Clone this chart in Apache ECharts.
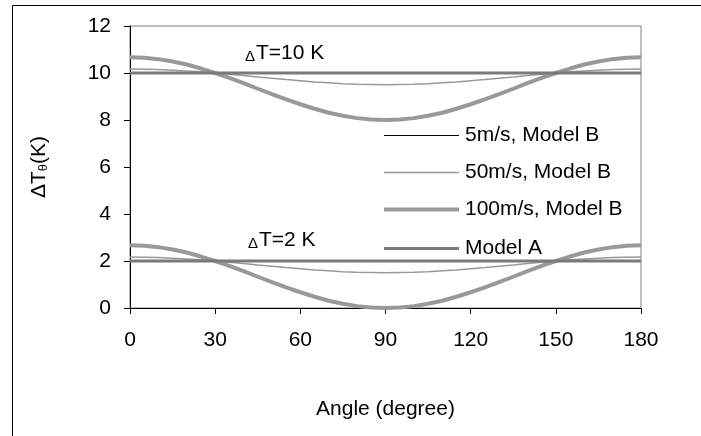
<!DOCTYPE html>
<html><head><meta charset="utf-8">
<script src="https://cdn.jsdelivr.net/npm/echarts@6/dist/echarts.min.js"></script>
<style>html,body{margin:0;padding:0;background:#fff}#c{width:701px;height:436px}</style>
</head><body><div id="c"></div>
<script>
var angles = [0,5,10,15,20,25,30,35,40,45,50,55,60,65,70,75,80,85,90,95,100,105,110,115,120,125,130,135,140,145,150,155,160,165,170,175,180];
var v100Upper = [10.67,10.65,10.59,10.49,10.36,10.19,10.00,9.79,9.57,9.33,9.10,8.88,8.67,8.48,8.31,8.18,8.08,8.02,8.00,8.02,8.08,8.18,8.31,8.48,8.67,8.88,9.10,9.33,9.57,9.79,10.00,10.19,10.36,10.49,10.59,10.65,10.67];
var v100Lower = [2.67,2.65,2.59,2.49,2.36,2.19,2.00,1.79,1.57,1.33,1.10,0.88,0.67,0.48,0.31,0.18,0.08,0.02,0.00,0.02,0.08,0.18,0.31,0.48,0.67,0.88,1.10,1.33,1.57,1.79,2.00,2.19,2.36,2.49,2.59,2.65,2.67];
var v50Upper = [10.17,10.16,10.15,10.12,10.09,10.05,10.00,9.95,9.89,9.83,9.78,9.72,9.67,9.62,9.58,9.54,9.52,9.51,9.50,9.51,9.52,9.54,9.58,9.62,9.67,9.72,9.78,9.83,9.89,9.95,10.00,10.05,10.09,10.12,10.15,10.16,10.17];
var v50Lower = [2.17,2.16,2.15,2.12,2.09,2.05,2.00,1.95,1.89,1.83,1.78,1.72,1.67,1.62,1.58,1.54,1.52,1.51,1.50,1.51,1.52,1.54,1.58,1.62,1.67,1.72,1.78,1.83,1.89,1.95,2.00,2.05,2.09,2.12,2.15,2.16,2.17];
var v5Upper = [10.00,10.00,10.00,10.00,10.00,10.00,10.00,10.00,10.00,10.00,10.00,10.00,10.00,10.00,10.00,10.00,10.00,10.00,10.00,10.00,10.00,10.00,10.00,10.00,10.00,10.00,10.00,10.00,10.00,10.00,10.00,10.00,10.00,10.00,10.00,10.00,10.00];
var v5Lower = [2.00,2.00,2.00,2.00,2.00,2.00,2.00,2.00,2.00,2.00,2.00,2.00,2.00,2.00,2.00,2.00,2.00,2.00,2.00,2.00,2.00,2.00,2.00,2.00,2.00,2.00,2.00,2.00,2.00,2.00,2.00,2.00,2.00,2.00,2.00,2.00,2.00];
var modelAAngles = [0, 180];
var modelAUpper = [10, 10];
var modelALower = [2, 2];
var seriesNames = ['5m/s, Model B', '50m/s, Model B', '100m/s, Model B', 'Model A'];
var xTicks = [0, 30, 60, 90, 120, 150, 180];
var yTicks = [0, 2, 4, 6, 8, 10, 12];
var annotations = ['ΔT=10 K', 'ΔT=2 K'];

function pairs(xs, ys){ return xs.map(function(x,i){ return [x, ys[i]]; }); }
var styles = {};
styles[seriesNames[0]] = {color:'#000000', width:1};
styles[seriesNames[1]] = {color:'#999999', width:1.5};
styles[seriesNames[2]] = {color:'#999999', width:4};
styles[seriesNames[3]] = {color:'#7a7a7a', width:3};
function mk(name, xs, ys, z){
  var s = styles[name];
  return {name:name, type:'line', data:pairs(xs, ys), symbol:'none', showSymbol:false,
    lineStyle:{color:s.color, width:s.width}, itemStyle:{color:s.color}, z:z, silent:true, animation:false};
}
var font = 'Liberation Sans, Arial, sans-serif';
var FS = 21;
var legendRows = [135.5, 172.5, 209.5, 248.5];
var legendGraphics = [];
seriesNames.forEach(function(n, i){
  var s = styles[n];
  legendGraphics.push({type:'line', shape:{x1:384, y1:legendRows[i], x2:459, y2:legendRows[i]},
    style:{stroke:s.color, lineWidth:s.width}, silent:true, z:20});
  legendGraphics.push({type:'text', x:465, y:legendRows[i],
    style:{text:n, fontFamily:font, fontSize:FS, fill:'#000', textVerticalAlign:'middle', verticalAlign:'middle'}, silent:true, z:20});
});
function annot(text, left, top){
  return {type:'text', left:left, top:top, z:10, silent:true,
    style:{text:'{d|' + text.charAt(0) + '}{t|' + text.slice(1) + '}',
      rich:{d:{fontFamily:font, fontSize:15, fill:'#000', padding:[6,1,0,0]}, t:{fontFamily:font, fontSize:FS, fill:'#000'}}}};
}
var chart = echarts.init(document.getElementById('c'), null, {renderer:'canvas'});
chart.setOption({
  animation:false,
  grid:{left:130, right:60, top:26, bottom:128, show:true, borderColor:'#808080', borderWidth:1},
  xAxis:{type:'value', min:xTicks[0], max:xTicks[xTicks.length-1], interval:30,
    axisLine:{lineStyle:{color:'#000', width:1}}, axisTick:{inside:false, length:6, lineStyle:{color:'#000'}},
    axisLabel:{fontFamily:font, fontSize:FS, color:'#000', margin:22},
    splitLine:{show:false},
    name:'Angle (degree)', nameLocation:'middle', nameGap:91,
    nameTextStyle:{fontFamily:font, fontSize:FS, color:'#000'}
  },
  yAxis:{type:'value', min:yTicks[0], max:yTicks[yTicks.length-1], interval:2,
    axisLine:{show:true, lineStyle:{color:'#000', width:1}}, axisTick:{show:true, inside:false, length:6, lineStyle:{color:'#000'}},
    axisLabel:{fontFamily:font, fontSize:FS, color:'#000', margin:19},
    splitLine:{show:false},
    name:'{a|ΔT}{s|θ}{a|(K)}', nameLocation:'middle', nameGap:80, nameRotate:90,
    nameTextStyle:{fontFamily:font, fontSize:FS, color:'#000',
      rich:{a:{fontFamily:font, fontSize:FS, color:'#000'}, s:{fontFamily:font, fontSize:13, color:'#000', verticalAlign:'bottom', padding:[9,0,0,0]}}}
  },
  graphic:[
    {type:'rect', shape:{x:12.5, y:5.5, width:700, height:440}, style:{fill:'none', stroke:'#000', lineWidth:1}, silent:true, z:-1},
    annot(annotations[0], 245, 43),
    annot(annotations[1], 248, 230)
  ].concat(legendGraphics),
  series:[
    mk(seriesNames[2], angles, v100Upper, 2),
    mk(seriesNames[2], angles, v100Lower, 2),
    mk(seriesNames[1], angles, v50Upper, 3),
    mk(seriesNames[1], angles, v50Lower, 3),
    mk(seriesNames[0], angles, v5Upper, 4),
    mk(seriesNames[0], angles, v5Lower, 4),
    mk(seriesNames[3], modelAAngles, modelAUpper, 5),
    mk(seriesNames[3], modelAAngles, modelALower, 5)
  ]
});
</script></body></html>
